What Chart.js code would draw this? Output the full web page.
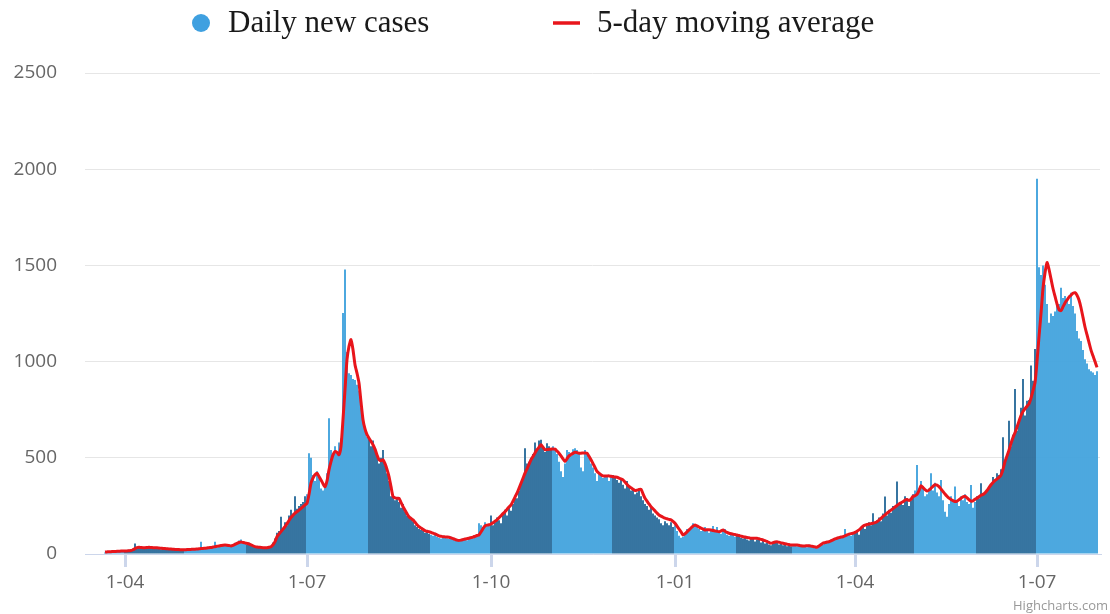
<!DOCTYPE html>
<html>
<head>
<meta charset="utf-8">
<script src="https://cdn.jsdelivr.net/npm/chart.js@4.4.0/dist/chart.umd.min.js"></script>
<style>
	html, body { margin: 0; padding: 0; background: #fff; }
	#wrap { position: relative; width: 1110px; height: 614px; }
</style>
</head>
<body>
<div id="wrap"><canvas id="casesChart"></canvas></div>
<script>
// daily new cases, one array per month (the first one starts on 22 March 2020)
const casesMar20 = [8, 12, 10, 15, 9, 14, 18, 12, 16, 20];
const casesApr20 = [14, 18, 22, 16, 28, 55, 30, 38, 34, 29, 36, 31, 40, 33, 30, 35, 28, 33, 25, 31, 27, 30, 24, 22, 29, 21, 25, 20, 24, 23];
const casesMay20 = [20, 26, 22, 25, 28, 24, 30, 27, 64, 26, 32, 29, 36, 31, 40, 64, 35, 44, 41, 49, 52, 45, 40, 48, 44, 58, 62, 70, 75, 55, 62];
const casesJun20 = [50, 58, 44, 40, 36, 32, 38, 30, 35, 31, 36, 40, 42, 60, 80, 110, 120, 194, 130, 165, 150, 200, 230, 210, 300, 235, 250, 260, 270, 300];
const casesJul20 = [310, 524, 500, 410, 380, 430, 400, 340, 330, 360, 420, 706, 540, 520, 560, 530, 580, 600, 1253, 1479, 1050, 940, 930, 910, 905, 880, 850, 760, 700, 640, 610];
const casesAug20 = [600, 560, 590, 540, 510, 470, 500, 540, 460, 420, 380, 300, 310, 280, 290, 270, 240, 260, 220, 200, 190, 180, 170, 150, 140, 130, 125, 120, 110, 115, 105];
const casesSep20 = [100, 95, 110, 90, 85, 80, 95, 88, 82, 78, 90, 75, 72, 68, 65, 70, 80, 75, 72, 85, 90, 82, 95, 100, 160, 150, 140, 165, 155, 145];
const casesOct20 = [200, 150, 165, 190, 175, 160, 215, 230, 200, 240, 225, 260, 300, 290, 330, 360, 400, 550, 470, 480, 500, 520, 580, 540, 590, 594, 560, 530, 575, 560, 540];
const casesNov20 = [560, 545, 520, 480, 430, 400, 470, 540, 530, 510, 545, 550, 540, 520, 450, 430, 540, 530, 500, 470, 450, 420, 380, 420, 410, 395, 400, 410, 380, 400];
const casesDec20 = [410, 400, 385, 370, 390, 360, 340, 380, 350, 330, 340, 310, 320, 330, 300, 280, 260, 250, 230, 240, 210, 200, 190, 180, 160, 150, 170, 160, 150, 165, 140];
const casesJan21 = [150, 120, 95, 85, 90, 110, 130, 120, 140, 160, 150, 145, 130, 120, 125, 140, 120, 110, 130, 146, 115, 140, 110, 105, 120, 130, 100, 95, 110, 100, 90];
const casesFeb21 = [95, 100, 85, 80, 90, 75, 70, 80, 85, 65, 75, 80, 60, 70, 55, 60, 50, 45, 55, 60, 65, 50, 55, 45, 50, 40, 45, 40];
const casesMar21 = [45, 50, 40, 42, 38, 45, 40, 35, 48, 38, 32, 35, 30, 40, 55, 50, 60, 65, 58, 75, 70, 80, 85, 78, 90, 95, 130, 100, 105, 95, 110];
const casesApr21 = [110, 125, 100, 140, 150, 130, 145, 165, 150, 212, 160, 175, 190, 170, 210, 299, 200, 230, 215, 250, 240, 377, 260, 270, 255, 300, 290, 250, 280, 310];
const casesMay21 = [330, 463, 340, 380, 350, 300, 310, 340, 420, 330, 370, 320, 300, 385, 280, 220, 194, 260, 300, 270, 351, 280, 250, 300, 280, 310, 270, 260, 359, 240, 270];
const casesJun21 = [300, 290, 368, 310, 320, 330, 350, 360, 400, 380, 420, 410, 440, 607, 480, 520, 693, 560, 620, 858, 640, 700, 760, 910, 720, 797, 800, 980, 900, 1066];
const casesJul21 = [1950, 1490, 1450, 1500, 1400, 1300, 1202, 1250, 1237, 1260, 1289, 1300, 1384, 1330, 1341, 1320, 1300, 1358, 1289, 1250, 1159, 1120, 1107, 1060, 1012, 990, 960, 950, 943, 930, 950];

// 5-day moving average, same days
const avgMar20 = [10, 11, 12, 12, 13, 13, 14, 14, 15, 15];
const avgApr20 = [15, 16, 17, 18, 22, 28, 33, 35, 34, 33, 33, 34, 35, 34, 33, 32, 32, 31, 30, 29, 28, 27, 26, 26, 25, 24, 23, 23, 22, 22];
const avgMay20 = [22, 23, 23, 24, 25, 25, 26, 27, 28, 29, 30, 31, 33, 34, 36, 38, 40, 42, 44, 46, 47, 46, 44, 42, 45, 50, 55, 60, 62, 60, 58];
const avgJun20 = [55, 52, 48, 43, 38, 36, 35, 34, 33, 33, 33, 35, 38, 48, 64, 90, 103, 116, 129, 142, 158, 174, 190, 201, 212, 220, 228, 237, 246, 255];
const avgJul20 = [264, 310, 368, 395, 412, 420, 403, 385, 365, 350, 380, 437, 480, 515, 533, 528, 516, 560, 700, 854, 1010, 1080, 1114, 1062, 984, 940, 889, 790, 698, 650, 620];
const avgAug20 = [602, 585, 568, 545, 515, 490, 485, 490, 470, 440, 403, 350, 299, 292, 290, 290, 268, 246, 228, 210, 194, 185, 177, 165, 152, 142, 135, 128, 122, 118, 116];
const avgSep20 = [112, 108, 104, 99, 94, 92, 90, 89, 88, 87, 84, 80, 76, 72, 70, 72, 75, 78, 80, 82, 85, 88, 92, 96, 99, 115, 132, 146, 150, 152];
const avgOct20 = [156, 162, 170, 177, 188, 199, 210, 220, 232, 244, 255, 275, 296, 316, 342, 368, 394, 420, 443, 466, 490, 507, 525, 542, 555, 568, 555, 542, 543, 544, 545];
const avgNov20 = [546, 545, 535, 524, 510, 495, 481, 495, 510, 517, 523, 529, 527, 524, 524, 525, 525, 524, 508, 490, 470, 450, 429, 420, 412, 406, 406, 406, 406, 404];
const avgDec20 = [402, 400, 399, 395, 390, 385, 374, 362, 351, 344, 337, 330, 332, 335, 337, 313, 290, 275, 260, 246, 235, 224, 213, 203, 197, 191, 186, 183, 180, 177, 170];
const avgJan21 = [160, 145, 130, 115, 99, 105, 115, 125, 135, 145, 151, 146, 140, 134, 130, 125, 126, 126, 125, 122, 120, 118, 116, 120, 125, 118, 112, 108, 105, 103, 101];
const avgFeb21 = [99, 96, 93, 90, 88, 86, 84, 82, 82, 82, 82, 79, 76, 73, 69, 65, 60, 56, 59, 62, 64, 61, 58, 56, 53, 51, 49, 47];
const avgMar21 = [47, 47, 47, 45, 43, 42, 42, 43, 43, 41, 39, 37, 35, 42, 49, 56, 59, 62, 64, 68, 73, 78, 82, 85, 88, 90, 94, 99, 103, 106, 108];
const avgApr21 = [112, 118, 125, 135, 145, 150, 153, 156, 158, 160, 163, 168, 176, 185, 195, 203, 212, 220, 228, 236, 244, 252, 260, 266, 272, 280, 283, 278, 285, 299];
const avgMay21 = [303, 310, 330, 355, 345, 335, 328, 332, 342, 352, 360, 358, 350, 338, 325, 312, 300, 290, 283, 277, 273, 275, 282, 290, 297, 300, 292, 282, 275, 276, 285];
const avgJun21 = [290, 298, 305, 310, 318, 330, 345, 360, 372, 382, 390, 398, 410, 440, 480, 510, 540, 575, 605, 630, 660, 690, 720, 741, 755, 768, 780, 810, 850, 890];
const avgJul21 = [1000, 1130, 1250, 1380, 1460, 1515, 1480, 1430, 1380, 1340, 1300, 1270, 1265, 1285, 1305, 1320, 1335, 1345, 1355, 1358, 1345, 1320, 1280, 1230, 1180, 1140, 1100, 1060, 1030, 1000, 970];

const monthNumbers = [3, 4, 5, 6, 7, 8, 9, 10, 11, 12, 1, 2, 3, 4, 5, 6, 7];
const casesByMonth = [casesMar20, casesApr20, casesMay20, casesJun20, casesJul20, casesAug20, casesSep20, casesOct20,
	casesNov20, casesDec20, casesJan21, casesFeb21, casesMar21, casesApr21, casesMay21, casesJun21, casesJul21];
const avgByMonth = [avgMar20, avgApr20, avgMay20, avgJun20, avgJul20, avgAug20, avgSep20, avgOct20,
	avgNov20, avgDec20, avgJan21, avgFeb21, avgMar21, avgApr21, avgMay21, avgJun21, avgJul21];

// x axis: days counted from 1 April 2020
const firstDay = -10;
const tickDays = [0, 91, 183, 275, 365, 456];
const tickLabels = ['1-04', '1-07', '1-10', '1-01', '1-04', '1-07'];
const yTicks = [0, 500, 1000, 1500, 2000, 2500];

const lightBlue = '#44a4de';
const darkBlue = '#2d6e9c';

const barPoints = [];
const linePoints = [];
const barColors = [];
let day = firstDay;
casesByMonth.forEach((month, m) => {
	month.forEach((v, i) => {
		barPoints.push({ x: day, y: v });
		linePoints.push({ x: day, y: avgByMonth[m][i] });
		barColors.push(monthNumbers[m] % 2 === 0 ? darkBlue : lightBlue);
		day++;
	});
});

const headerPlugin = {
	id: 'header',
	afterDraw(chart) {
		const ctx = chart.ctx;
		ctx.save();
		// legend
		ctx.fillStyle = '#3fa0e0';
		ctx.beginPath();
		ctx.arc(201, 23, 9, 0, Math.PI * 2);
		ctx.fill();
		ctx.strokeStyle = '#e8151b';
		ctx.lineWidth = 3.5;
		ctx.beginPath();
		ctx.moveTo(553, 23);
		ctx.lineTo(580, 23);
		ctx.stroke();
		ctx.fillStyle = '#1a1a1a';
		ctx.font = '31px "Liberation Serif"';
		ctx.textBaseline = 'alphabetic';
		ctx.fillText('Daily new cases', 228, 32);
		ctx.fillText('5-day moving average', 597, 32);
		// credits
		ctx.fillStyle = '#999';
		ctx.font = '13px "Open Sans"';
		ctx.textAlign = 'right';
		ctx.fillText('Highcharts.com', 1108, 610);
		ctx.restore();
	}
};

new Chart(document.getElementById('casesChart'), {
	data: {
		datasets: [
			{
				type: 'line',
				label: '5-day moving average',
				data: linePoints,
				borderColor: '#e8151b',
				borderWidth: 3,
				pointRadius: 0,
				tension: 0.2,
				order: 0,
			},
			{
				type: 'bar',
				label: 'Daily new cases',
				data: barPoints,
				backgroundColor: barColors,
				barPercentage: 1,
				categoryPercentage: 0.95,
				order: 1,
			},
		],
	},
	options: {
		responsive: true,
		maintainAspectRatio: false,
		animation: false,
		events: [],
		layout: { padding: { top: 73, right: 10, bottom: 0, left: 0 } },
		plugins: {
			legend: { display: false },
			tooltip: { enabled: false },
		},
		scales: {
			x: {
				type: 'linear',
				min: -20,
				max: 487.5,
				offset: false,
				afterFit(scale) { scale.height = 60; },
				afterBuildTicks(scale) { scale.ticks = tickDays.map(v => ({ value: v })); },
				ticks: {
					autoSkip: false,
					maxRotation: 0,
					padding: 4,
					color: '#666',
					font: { family: '"Open Sans"', size: 19 },
					callback: (v) => tickLabels[tickDays.indexOf(v)],
				},
				grid: {
					offset: false,
					drawOnChartArea: false,
					drawTicks: true,
					tickLength: 13,
					color: '#ccd6eb',
					lineWidth: 3,
				},
				border: { display: true, color: '#ccd6eb', width: 1 },
			},
			y: {
				min: 0,
				max: 2500,
				afterFit(scale) { scale.width = 85; },
				afterBuildTicks(scale) { scale.ticks = yTicks.map(v => ({ value: v })); },
				ticks: {
					padding: 28,
					color: '#666',
					font: { family: '"Open Sans"', size: 19 },
					callback: (v) => String(v),
				},
				grid: { color: '#e6e6e6', drawTicks: false },
				border: { display: false },
			},
		},
	},
	plugins: [headerPlugin],
});
</script>
</body>
</html>
